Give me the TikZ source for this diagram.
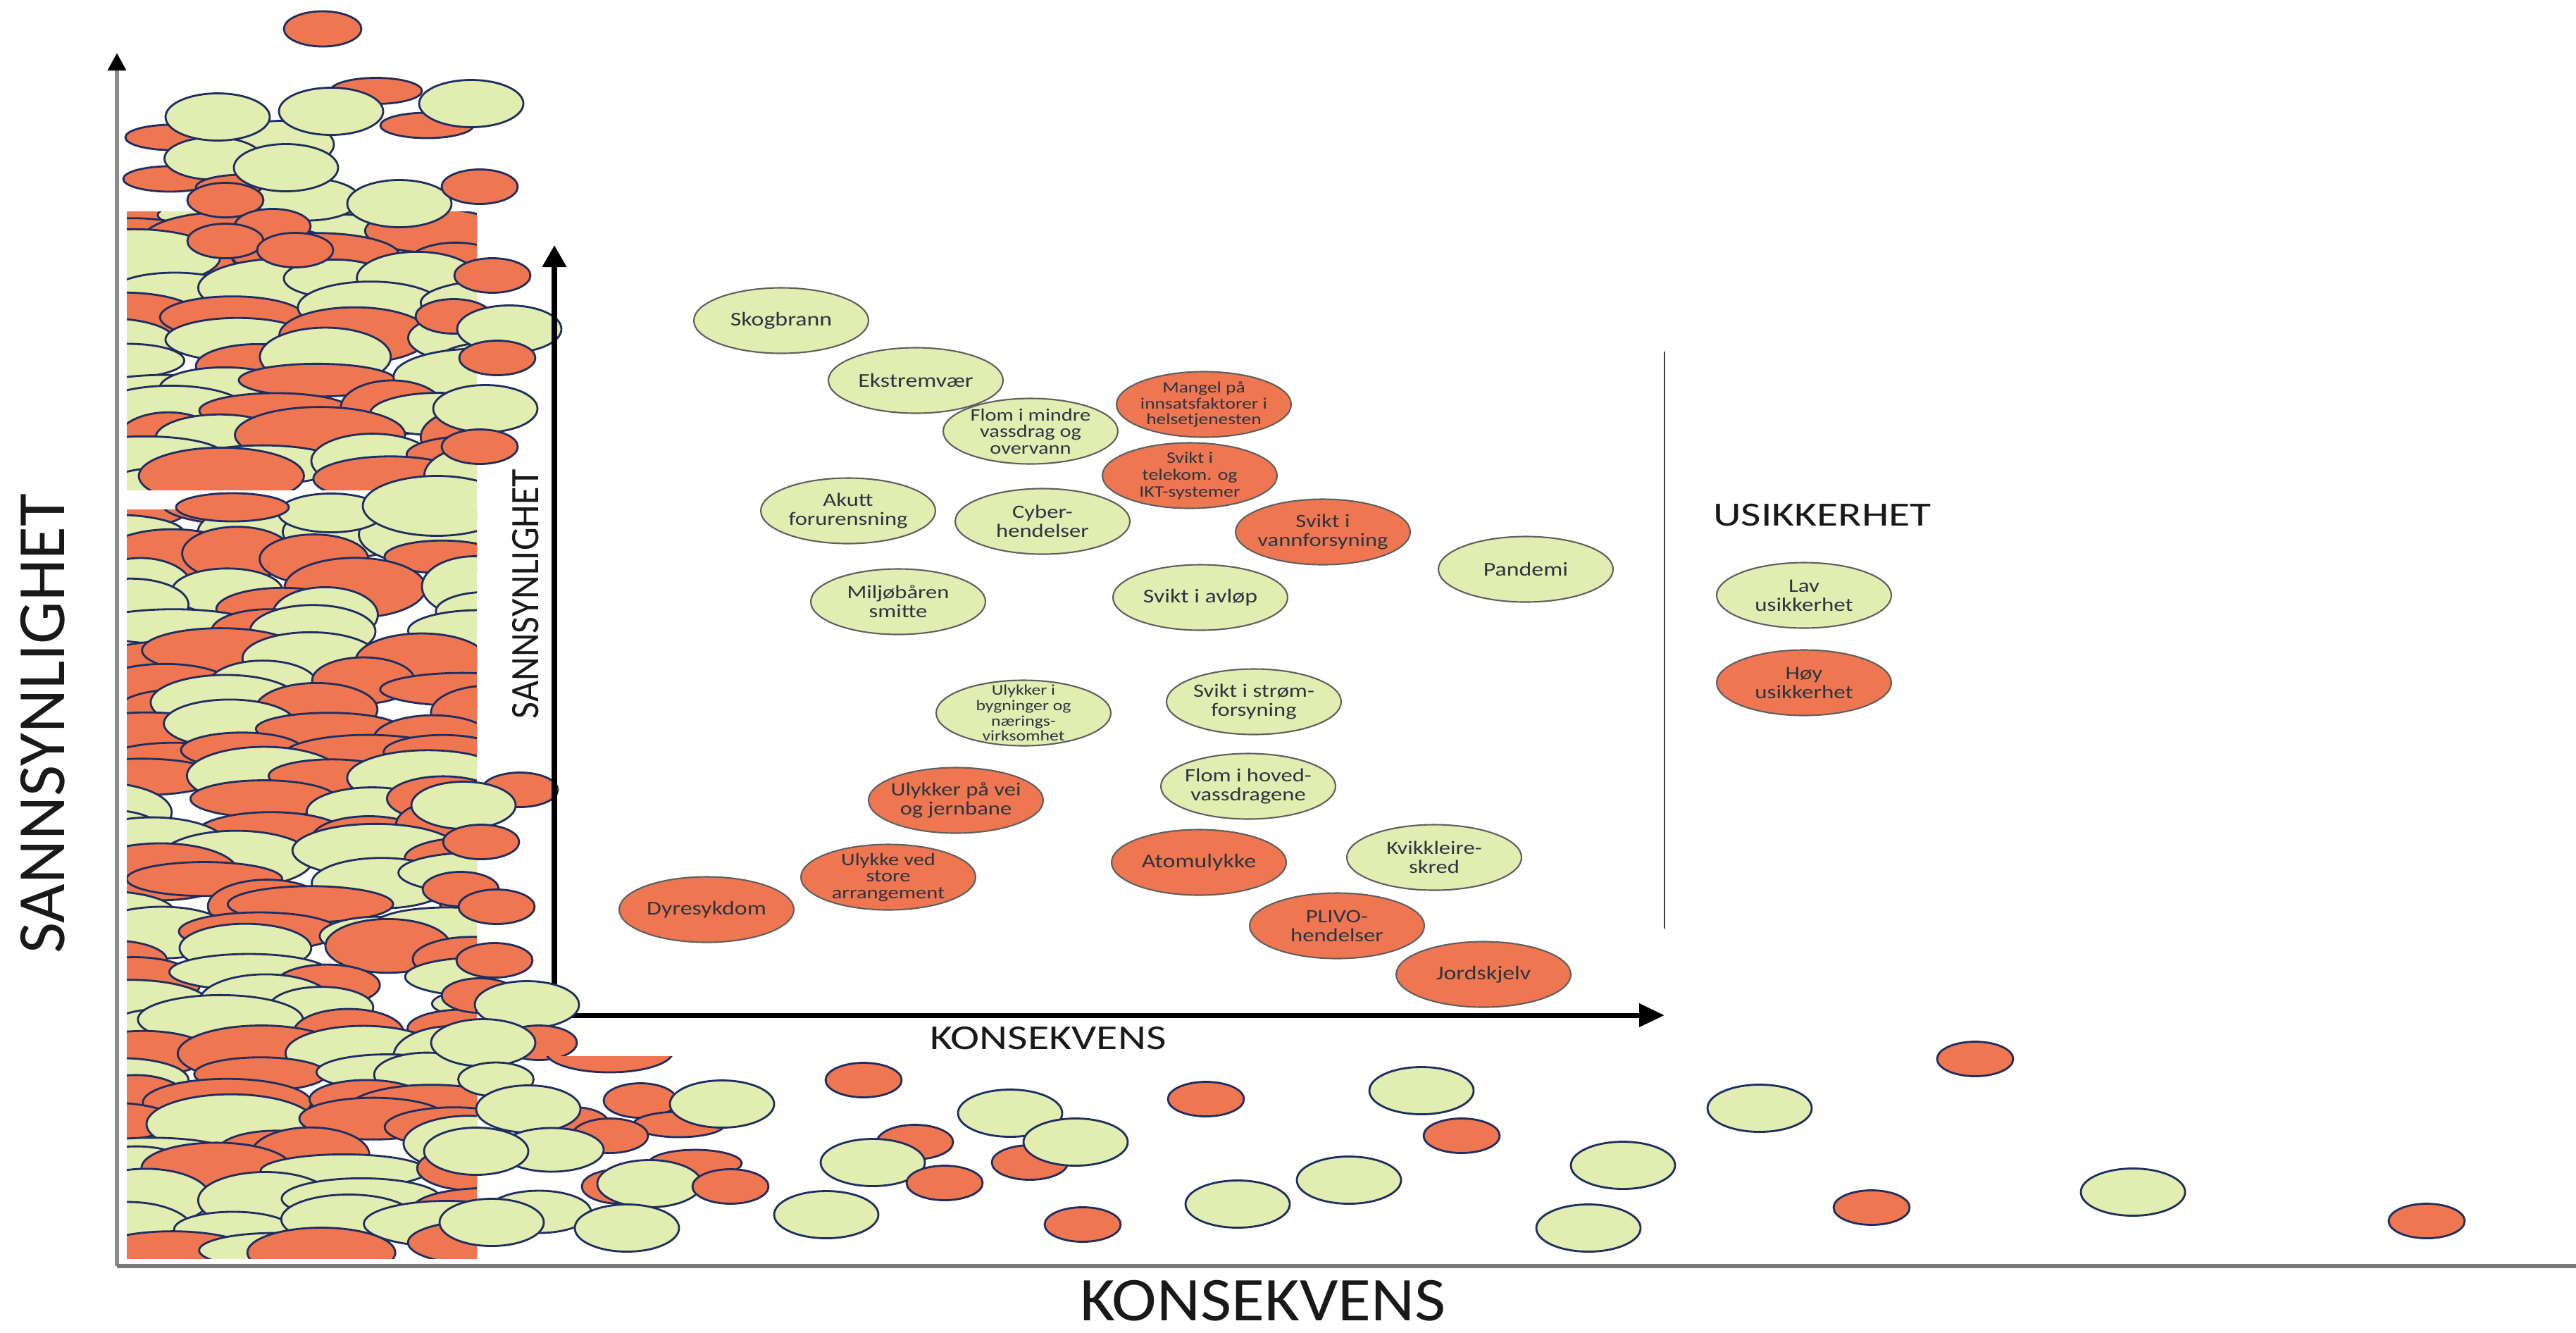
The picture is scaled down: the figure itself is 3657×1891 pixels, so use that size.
\documentclass[tikz,border=0pt]{standalone}
\usepackage{fontspec}
\setmainfont{Carlito}
\usetikzlibrary{shapes.geometric,arrows.meta}
\definecolor{myred}{RGB}{238,119,81}
\definecolor{mygreen}{RGB}{226,237,177}
\definecolor{navy}{RGB}{31,45,95}
\definecolor{lblline}{RGB}{95,95,95}
\definecolor{lbltext}{RGB}{45,52,64}
\definecolor{axgray}{RGB}{140,140,140}
\tikzset{
  dec/.style={draw=navy, line width=0.8pt},
  lbl/.style={ellipse, draw=lblline, line width=0.6pt, minimum width=2.48cm, minimum height=0.93cm, inner sep=0pt},
  lblR/.style={lbl, fill=myred},
  lblG/.style={lbl, fill=mygreen},
  ltxt/.style={align=center, text=lbltext, inner sep=0pt, xscale=1.22},
  fa/.style={font=\fontsize{7.9pt}{8pt}\selectfont},
  fb/.style={font=\fontsize{7.6pt}{7.7pt}\selectfont},
  fc/.style={font=\fontsize{7.1pt}{6.7pt}\selectfont},
  fd/.style={font=\fontsize{6.4pt}{6.4pt}\selectfont},
  fe/.style={font=\fontsize{6pt}{6.2pt}\selectfont},
  axl/.style={inner sep=0pt, text=black!90},
}
\newcommand\myER[4]{\draw[dec,fill=myred] (#1,#2) ellipse [x radius=#3*0.5, y radius=#4*0.5];}
\newcommand\myEG[4]{\draw[dec,fill=mygreen] (#1,#2) ellipse [x radius=#3*0.5, y radius=#4*0.5];}
\newcommand\myR[2]{\myER{#1}{#2}{108}{49}}
\newcommand\myG[2]{\myEG{#1}{#2}{148}{67}}
\newcommand\colrows[2]{%
  \foreach \ri in {0,...,#2} {
    \foreach \ki in {0,...,3} {
      \pgfmathsetmacro\xx{140+\ki*150+rnd*120}
      \pgfmathsetmacro\yy{#1+\ri*35+rnd*24-12}
      \pgfmathsetmacro\ww{145+rnd*100}
      \pgfmathsetmacro\hh{45+rnd*42}
      \pgfmathsetmacro\cc{rnd}
      \ifdim\cc pt<0.56pt\def\fcol{myred}\else\def\fcol{mygreen}\fi
      \draw[dec,fill=\fcol] (\xx,\yy) ellipse [x radius=\ww/2, y radius=\hh/2];
    }}}
\begin{document}
\begin{tikzpicture}[x=0.1mm,y=-0.1mm]
\useasboundingbox (0,0) rectangle (3657,1891);
\pgfmathsetseed{9173}
% dense column
\begin{scope}
  \clip (180,300) rectangle (677,695);
  \colrows{300}{11}
\end{scope}
\begin{scope}
  \clip (180,723) rectangle (677,1786);
  \colrows{723}{30}
\end{scope}
\begin{scope}
  \clip (180,300) rectangle (677,1786);
  \myEG{470}{728}{150}{55}
  \myEG{620}{718}{210}{85}
  \myER{330}{720}{160}{40}
\end{scope}
% top floating group
\myER{534}{129}{130}{37}
\myER{606}{178}{132}{36}
\myER{244}{195}{132}{36}
\myEG{399}{205}{150}{67}
\myER{241}{254}{132}{36}
\myEG{303}{225}{139}{60}
\myG{309}{166}
\myG{470}{158}
\myG{669}{147}
\myER{458}{41}{110}{50}
\myER{344}{266}{132}{36}
\myEG{436}{283}{150}{60}
\myR{320}{284}
\myG{406}{238}
\myG{567}{289}
\myR{681}{265}
\myR{387}{321}
\myR{320}{342}
\myR{419}{355}
% right edge of column
\myR{699}{391}
\myR{644}{449}
\myG{723}{467}
\myR{706}{508}
\myG{689}{580}
\myR{681}{634}
\myR{738}{1121}
\myG{658}{1143}
\myR{683}{1195}
\myR{654}{1262}
\myR{705}{1287}
\myR{702}{1363}
% axes
\coordinate (BO) at (166,1797);
\coordinate (Btop) at (166,75);
\coordinate (Bright) at (3657,1797);
\coordinate (O) at (787,1441);
\coordinate (Ytip) at (787,348);
\coordinate (Xtip) at (2363,1441);
\coordinate (D1) at (2363,499);
\coordinate (D2) at (2363,1318);
\draw[line width=1.7pt, axgray, -{Triangle[length=2.5mm,width=2.5mm,color=black]}] (BO) -- (Btop);
\draw[line width=1.6pt, axgray!85!black] (BO) -- (Bright);
\draw[line width=2pt, -{Triangle[length=3.1mm,width=3.3mm]}] (O) -- (Ytip);
\draw[line width=2pt, -{Triangle[length=3.6mm,width=3.2mm]}] (O) -- (Xtip);
\draw[line width=0.6pt, black!75] (D1) -- (D2);
% bottom-left cluster
\myR{681}{1413}
\myG{748}{1426}
\myR{765}{1480}
\myG{686}{1480}
\begin{scope}
  \clip (770,1499) rectangle (1000,1560);
  \myER{865}{1493}{180}{58}
\end{scope}
\myEG{704}{1532}{107}{48}
\myER{815}{1596}{100}{49}
\myG{750}{1574}
\myER{909}{1562}{104}{49}
\myER{964}{1596}{130}{36}
\myG{1025}{1567}
\myR{866}{1612}
\myEG{783}{1632}{148}{62}
\myG{676}{1634}
\myER{987}{1651}{132}{38}
\myR{880}{1684}
\myG{922}{1680}
\myR{1037}{1684}
\myEG{765}{1720}{148}{60}
\myG{698}{1735}
\myG{890}{1743}
% bottom scatter
\myR{1226}{1533}
\myR{1299}{1621}
\myG{1239}{1650}
\myR{1341}{1679}
\myG{1434}{1580}
\myR{1462}{1650}
\myG{1527}{1621}
\myG{1173}{1724}
\myR{1537}{1738}
\myG{1757}{1709}
\myG{1915}{1675}
\myR{1712}{1560}
\myG{2018}{1548}
\myR{2075}{1612}
\myG{2304}{1654}
\myG{2255}{1743}
\myG{2498}{1573}
\myR{2804}{1503}
\myR{2657}{1714}
\myG{3028}{1692}
\myR{3445}{1733}
% labelled ellipses
\node[lblG] (skog) at (1109,455) {};
\node[ltxt,fa] (skogT) at (skog) {Skogbrann};
\node[lblG] (ekst) at (1300,540) {};
\node[ltxt,fa] (ekstT) at (ekst) {Ekstremvær};
\node[lblR] (mang) at (1709,574) {};
\node[ltxt,fd] (mangT) at (mang) {Mangel på\\innsatsfaktorer i\\helsetjenesten};
\node[lblG] (flomm) at (1463,612) {};
\node[ltxt,fc] (flommT) at (flomm) {Flom i mindre\\vassdrag og\\overvann};
\node[lblR] (tele) at (1689,675) {};
\node[ltxt,fd,font=\fontsize{6.5pt}{6.8pt}\selectfont] (teleT) at (tele) {Svikt i\\telekom. og\\IKT-systemer};
\node[lblG] (akutt) at (1204,725) {};
\node[ltxt,fb] (akuttT) at (akutt) {Akutt\\forurensning};
\node[lblG] (cyber) at (1480,740) {};
\node[ltxt,fb] (cyberT) at (cyber) {Cyber-\\hendelser};
\node[lblR] (vann) at (1878,755) {};
\node[ltxt,fb] (vannT) at (vann) {Svikt i\\vannforsyning};
\node[lblG] (pand) at (2166,808) {};
\node[ltxt,fa] (pandT) at (pand) {Pandemi};
\node[lblG] (milj) at (1275,854) {};
\node[ltxt,fb] (miljT) at (milj) {Miljøbåren\\smitte};
\node[lblG] (avlop) at (1704,848) {};
\node[ltxt,fa] (avlopT) at (avlop) {Svikt i avløp};
\node[lblG] (bygn) at (1453,1012) {};
\node[ltxt,fe] (bygnT) at (bygn) {Ulykker i\\bygninger og\\nærings-\\virksomhet};
\node[lblG] (strom) at (1780,996) {};
\node[ltxt,fb] (stromT) at (strom) {Svikt i strøm-\\forsyning};
\node[lblG] (flomh) at (1772,1116) {};
\node[ltxt,fb] (flomhT) at (flomh) {Flom i hoved-\\vassdragene};
\node[lblR] (vei) at (1357,1136) {};
\node[ltxt,fb] (veiT) at (vei) {Ulykker på vei\\og jernbane};
\node[lblR] (atom) at (1702,1224) {};
\node[ltxt,fa] (atomT) at (atom) {Atomulykke};
\node[lblG] (kvikk) at (2036,1217) {};
\node[ltxt,fb] (kvikkT) at (kvikk) {Kvikkleire-\\skred};
\node[lblR] (arr) at (1261,1245) {};
\node[ltxt,fc] (arrT) at (arr) {Ulykke ved\\store\\arrangement};
\node[lblR] (dyre) at (1003,1291) {};
\node[ltxt,fa] (dyreT) at (dyre) {Dyresykdom};
\node[lblR] (plivo) at (1898,1314) {};
\node[ltxt,fb] (plivoT) at (plivo) {PLIVO-\\hendelser};
\node[lblR] (jord) at (2106,1383) {};
\node[ltxt,fa] (jordT) at (jord) {Jordskjelv};
% legend
\node[axl, xscale=1.28, font=\fontsize{13.7pt}{14pt}\selectfont] (usik) at (2587,731) {USIKKERHET};
\node[lblG] (lav) at (2561,845) {};
\node[ltxt,font=\fontsize{7.7pt}{7.7pt}\selectfont] (lavT) at (lav) {Lav\\usikkerhet};
\node[lblR] (hoy) at (2561,969) {};
\node[ltxt,font=\fontsize{7.7pt}{7.7pt}\selectfont] (hoyT) at (hoy) {Høy\\usikkerhet};
% axis labels
\node[axl, xscale=1.25, font=\fontsize{14.1pt}{15pt}\selectfont] (ikons) at (1488,1474) {KONSEKVENS};
\node[axl, rotate=90, yscale=1.1, font=\fontsize{14.8pt}{15pt}\selectfont] (isann) at (746,843) {SANNSYNLIGHET};
\node[axl, yscale=0.92, font=\fontsize{27.3pt}{28pt}\selectfont] (bkons) at (1793,1846) {KONSEKVENS};
\node[axl, rotate=90, font=\fontsize{27.3pt}{28pt}\selectfont] (bsann) at (61,1027) {SANNSYNLIGHET};
\end{tikzpicture}
\end{document}
